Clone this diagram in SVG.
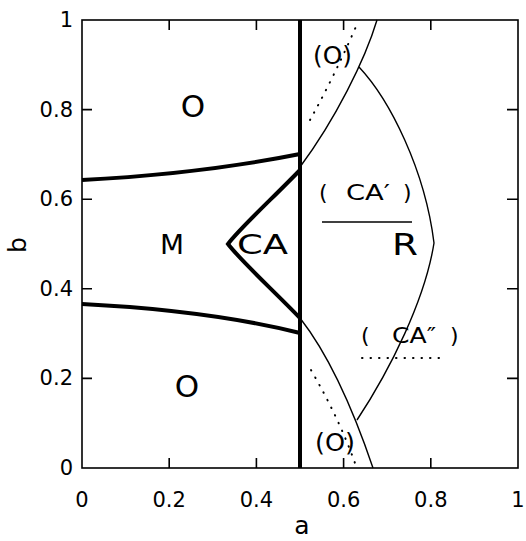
<svg xmlns="http://www.w3.org/2000/svg" width="526" height="541" viewBox="0 0 526 541">
<style>
text{font-family:"DejaVu Sans","Liberation Sans",sans-serif;fill:#000}
.tl{font-size:21px}
.yl{text-anchor:end}
.xl{text-anchor:middle}
.lab{font-size:27px}
.big{font-size:31px;text-anchor:middle}
.sl{font-size:22px}
.thin{fill:none;stroke:#000;stroke-width:1.4}
.thick{fill:none;stroke:#000;stroke-width:4;stroke-linejoin:miter}
.dot{fill:none;stroke:#000;stroke-width:2;stroke-dasharray:0.5 8;stroke-linecap:round}
.ax{fill:none;stroke:#000;stroke-width:1.6}
</style>
<rect width="526" height="541" fill="#fff"/>
<g id="axes">
<rect class="ax" x="82" y="20" width="436" height="448"/>
<path class="ax" d="M169.2,468v-10M256.4,468v-10M343.6,468v-10M430.8,468v-10M169.2,20v10M256.4,20v10M343.6,20v10M430.8,20v10M82,109.6h10M82,199.2h10M82,288.8h10M82,378.4h10M518,109.6h-11M518,199.2h-11M518,288.8h-11M518,378.4h-11"/>
<text class="tl yl" x="73" y="27">1</text>
<text class="tl yl" x="73" y="117">0.8</text>
<text class="tl yl" x="73" y="206">0.6</text>
<text class="tl yl" x="73" y="296">0.4</text>
<text class="tl yl" x="73" y="385">0.2</text>
<text class="tl yl" x="73" y="475">0</text>
<text class="tl xl" x="82" y="507">0</text>
<text class="tl xl" x="169.2" y="507">0.2</text>
<text class="tl xl" x="256.4" y="507">0.4</text>
<text class="tl xl" x="343.6" y="507">0.6</text>
<text class="tl xl" x="430.8" y="507">0.8</text>
<text class="tl xl" x="518" y="507">1</text>
<text class="xl" x="302" y="534" font-size="25">a</text>
<text class="xl" x="0" y="0" font-size="25" transform="translate(26,245) rotate(-90)">b</text>
</g>
<g id="connectors">
<path class="thick" d="M300,20V468"/>
<path class="thick" d="M82,180 C160,176 240,166 300,154"/>
<path class="thick" d="M82,304 C160,308 240,318 300,333"/>
<path class="thick" d="M300,170 C275,196 240,228 228,244 C240,260 275,292 300,318"/>
<path class="thin" d="M377,20 C365,60 335,120 300,167"/>
<path class="thin" d="M359,67 C390,100 425,170 434,243 C425,300 390,370 357,420"/>
<path class="thin" d="M300,318 C325,350 350,400 373,468"/>
<path class="thin" d="M322,222H412"/>
<path class="dot" d="M310,120 Q335,75 358,22"/>
<path class="dot" d="M311,370 Q340,420 356,466"/>
<path class="dot" d="M362,358H447"/>
</g>
<g id="region-O-top"><text class="big" x="193" y="117">O</text></g>
<g id="region-O-bottom"><text class="big" x="187" y="397">O</text></g>
<g id="region-M"><text class="lab" x="160" y="254" textLength="24" lengthAdjust="spacingAndGlyphs">M</text></g>
<g id="region-CA"><text class="lab" x="237" y="254" textLength="51" lengthAdjust="spacingAndGlyphs">CA</text></g>
<g id="region-R"><text x="392" y="255" font-size="30" textLength="26" lengthAdjust="spacingAndGlyphs">R</text></g>
<g id="region-CA1"><text class="sl" x="319" y="200">(</text><text class="sl" x="346" y="200" textLength="44" lengthAdjust="spacingAndGlyphs">CA′</text><text class="sl" x="403" y="200">)</text></g>
<g id="region-CA2"><text class="sl" x="361" y="343">(</text><text class="sl" x="392" y="343" textLength="44" lengthAdjust="spacingAndGlyphs">CA″</text><text class="sl" x="450" y="343">)</text></g>
<g id="region-O1"><text x="313" y="64" font-size="24" textLength="39" lengthAdjust="spacingAndGlyphs">(O)</text></g>
<g id="region-O2"><text x="315" y="451" font-size="24" textLength="40" lengthAdjust="spacingAndGlyphs">(O)</text></g>
</svg>
